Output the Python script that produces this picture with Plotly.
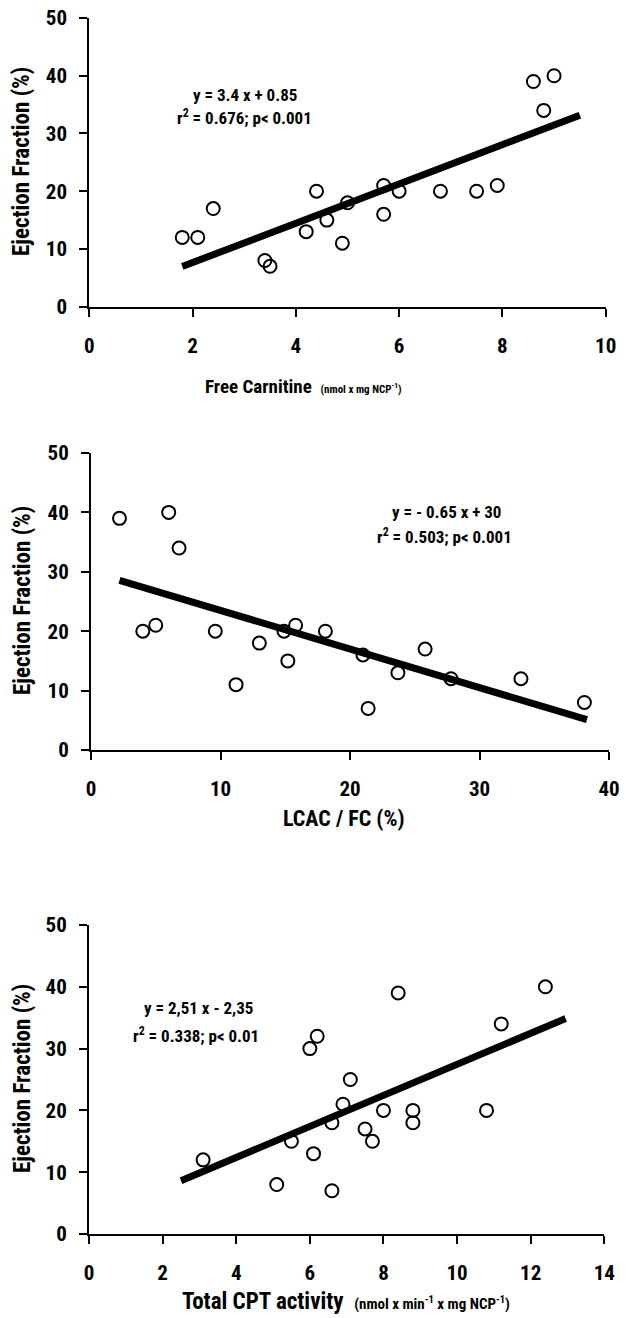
import plotly.graph_objects as go

# ---------------- data ----------------
fc_x = [1.8, 2.1, 2.4, 3.4, 3.5, 4.2, 4.4, 4.6, 4.9, 5.0, 5.7, 5.7, 6.0, 6.8, 7.5, 7.9, 8.6, 8.8, 9.0]
fc_y = [12, 12, 17, 8, 7, 13, 20, 15, 11, 18, 21, 16, 20, 20, 20, 21, 39, 34, 40]
fc_fit_x = [1.8, 9.5]
fc_slope, fc_icpt = 3.4, 0.85

lc_x = [2.2, 6.0, 6.8, 4.0, 5.0, 9.6, 11.2, 13.0, 14.9, 15.2, 15.8, 18.1, 21.0, 21.4, 23.7, 25.8, 27.8, 33.2, 38.1]
lc_y = [39, 40, 34, 20, 21, 20, 11, 18, 20, 15, 21, 20, 16, 7, 13, 17, 12, 12, 8]
lc_fit_x = [2.2, 38.3]
lc_slope, lc_icpt = -0.65, 30

cpt_x = [3.1, 5.1, 5.5, 6.0, 6.2, 6.1, 6.6, 6.6, 6.9, 7.1, 7.5, 7.7, 8.0, 8.4, 8.8, 8.8, 10.8, 11.2, 12.4]
cpt_y = [12, 8, 15, 30, 32, 13, 18, 7, 21, 25, 17, 15, 20, 39, 20, 18, 20, 34, 40]
cpt_fit_x = [2.5, 12.95]
cpt_slope, cpt_icpt = 2.51, 2.35

y_ticks = [0, 10, 20, 30, 40, 50]
fc_ticks = [0, 2, 4, 6, 8, 10]
lc_ticks = [0, 10, 20, 30, 40]
cpt_ticks = [0, 2, 4, 6, 8, 10, 12, 14]

# ---------------- layout helpers ----------------
W, H = 627, 1318
FONT = "Liberation Sans Narrow, Arial Narrow, Roboto Condensed, Liberation Sans, Arial, sans-serif"


def px(x):
    return x / W


def py(y):
    return 1 - y / H


panels = [
    dict(x=fc_x, y=fc_y, fx=fc_fit_x, m=fc_slope, b=fc_icpt, ticks=fc_ticks, rng=[0, 10],
         xd=[89.3, 605.7], yd=[18, 306.7]),
    dict(x=lc_x, y=lc_y, fx=lc_fit_x, m=lc_slope, b=lc_icpt, ticks=lc_ticks, rng=[0, 40],
         xd=[91, 609], yd=[453, 750]),
    dict(x=cpt_x, y=cpt_y, fx=cpt_fit_x, m=cpt_slope, b=cpt_icpt, ticks=cpt_ticks, rng=[0, 14],
         xd=[89, 604.3], yd=[925, 1234]),
]

fig = go.Figure()
layout = dict(
    width=W, height=H,
    margin=dict(l=0, r=0, t=0, b=0, pad=0),
    paper_bgcolor="white", plot_bgcolor="white",
    showlegend=False, hovermode=False,
    font=dict(family=FONT, color="black"),
)

for i, p in enumerate(panels, start=1):
    xa = "x" if i == 1 else f"x{i}"
    ya = "y" if i == 1 else f"y{i}"
    fy = [p["m"] * v + p["b"] for v in p["fx"]]
    fig.add_trace(go.Scatter(x=p["fx"], y=fy, mode="lines",
                             line=dict(color="black", width=7),
                             xaxis=xa, yaxis=ya, hoverinfo="skip"))
    fig.add_trace(go.Scatter(x=p["x"], y=p["y"], mode="markers",
                             marker=dict(symbol="circle-open", size=13, color="black",
                                         line=dict(width=2, color="black")),
                             xaxis=xa, yaxis=ya))
    axis_common = dict(showline=True, linecolor="black", linewidth=2, showgrid=False,
                       zeroline=False, ticks="outside", ticklen=8, tickwidth=2,
                       tickcolor="black", automargin=False,
                       tickfont=dict(family=FONT, size=21, color="black", weight="bold"))
    layout["xaxis" if i == 1 else f"xaxis{i}"] = dict(
        axis_common, domain=[px(p["xd"][0]), px(p["xd"][1])], range=p["rng"],
        tickvals=p["ticks"], anchor=ya, ticklabelstandoff=11, fixedrange=True)
    layout["yaxis" if i == 1 else f"yaxis{i}"] = dict(
        axis_common, domain=[py(p["yd"][1]), py(p["yd"][0])], range=[0, 50],
        tickvals=y_ticks, anchor=xa, ticklabelstandoff=8, fixedrange=True)

fig.update_layout(**layout)

ann = []


def add_text(x, y, text, size=14, angle=0):
    ann.append(dict(x=px(x), y=py(y), xref="paper", yref="paper", text=text,
                    showarrow=False, textangle=angle, xanchor="center", yanchor="middle",
                    font=dict(family=FONT, size=size, color="black", weight="bold")))


# y-axis titles
for cy in [162, 601, 1079]:
    add_text(22, cy, "Ejection Fraction (%)", size=23, angle=-90)

# x-axis titles
add_text(303, 386, "Free Carnitine  <span style='font-size:11px'>(nmol x mg NCP<sup>-1</sup>)</span>", size=19)
add_text(344, 818, "LCAC / FC (%)", size=22)
add_text(346, 1301, "Total CPT activity  <span style='font-size:15px'>(nmol x min<sup>-1</sup> x mg NCP<sup>-1</sup>)</span>", size=23)

# regression equations
add_text(245, 95, "y = 3.4 x + 0.85", size=17)
add_text(244, 117, "r<sup>2</sup> = 0.676; p&lt; 0.001", size=17)
add_text(446, 512, "y = - 0.65 x + 30", size=17)
add_text(444, 536, "r<sup>2</sup> = 0.503; p&lt; 0.001", size=17)
add_text(198, 1008, "y = 2,51 x - 2,35", size=17)
add_text(196, 1035, "r<sup>2</sup> = 0.338; p&lt; 0.01", size=17)

fig.update_layout(annotations=ann)
fig.write_html("out.html", config={"displayModeBar": False, "staticPlot": True},
               post_script="document.body.style.margin='0';document.body.style.overflow='hidden';")
